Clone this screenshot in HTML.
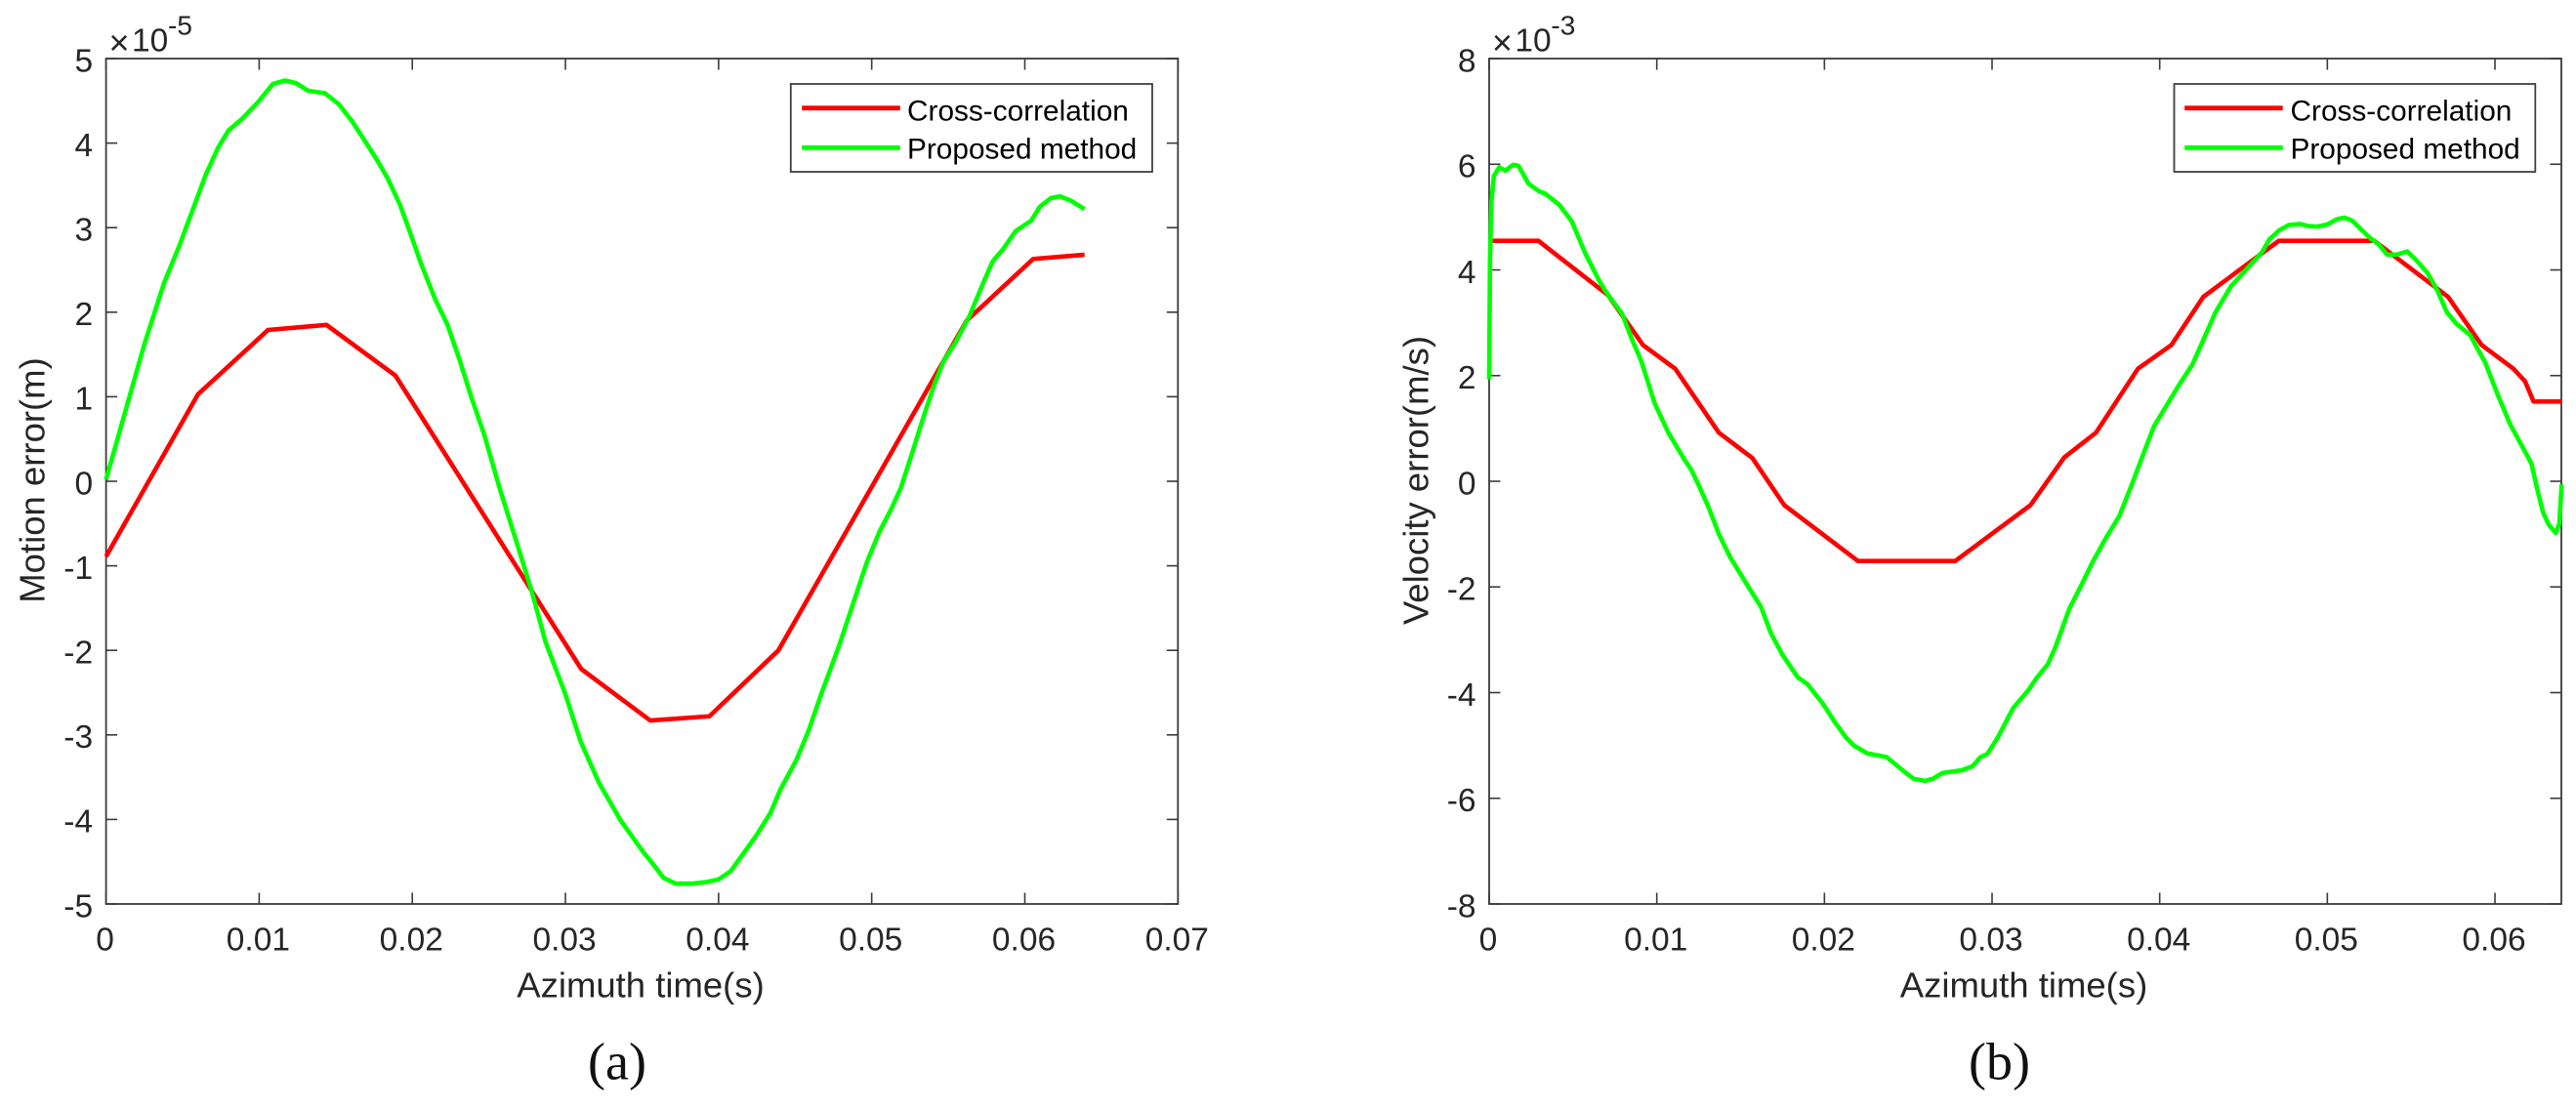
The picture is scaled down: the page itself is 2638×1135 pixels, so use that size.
<!DOCTYPE html>
<html lang="en">
<head>
<meta charset="utf-8">
<title>Motion and velocity error charts</title>
<style>
html,body{margin:0;padding:0;background:#fff;}
body{width:2638px;height:1135px;overflow:hidden;}
svg{display:block;font-family:"Liberation Sans",Arial,sans-serif;}
.tick-label{font-size:33.5px;fill:#262626;}
.axis-title{font-size:36.5px;fill:#262626;}
.legend-text{font-size:29.8px;fill:#000;}
.caption{font-family:"Liberation Serif",serif;font-size:54px;fill:#111;}
.frame{fill:none;stroke:#3a3a3a;stroke-width:1.8;}
.tick{stroke:#3a3a3a;stroke-width:1.6;}
.legend-box{fill:#fff;stroke:#404040;stroke-width:1.8;}
</style>
</head>
<body>
<svg id="root" width="2638" height="1135" viewBox="0 0 2638 1135" xmlns="http://www.w3.org/2000/svg">
  <rect width="2638" height="1135" fill="#fff"/>

  <g id="chart-a">
    <rect class="frame" x="108.6" y="60" width="1097.7" height="866"/>
    <g id="ticks-a"></g>
    <g id="series-a"></g>
    <g>
      <text class="tick-label" x="111.5" y="56" style="font-size:36px">×</text>
      <text class="tick-label" x="135" y="52.3">10</text>
      <text class="tick-label" x="172" y="35.7" style="font-size:28px">-5</text>
    </g>
    <text class="axis-title" x="656" y="1021.5" text-anchor="middle">Azimuth time(s)</text>
    <text class="axis-title" transform="translate(45.5,492) rotate(-90)" text-anchor="middle">Motion error(m)</text>
    <g>
      <rect class="legend-box" x="809.8" y="86" width="370.2" height="90"/>
      <line x1="821.2" x2="921.8" y1="110.7" y2="110.7" stroke="#ff0000" stroke-width="4.8"/>
      <line x1="821.2" x2="921.8" y1="151.3" y2="151.3" stroke="#00ff00" stroke-width="4.8"/>
      <text class="legend-text" x="929" y="123.3">Cross-correlation</text>
      <text class="legend-text" x="929" y="162.7">Proposed method</text>
    </g>
    <text class="caption" x="632" y="1105.5" text-anchor="middle">(a)</text>
  </g>

  <g id="chart-b">
    <rect class="frame" x="1525" y="60" width="1098" height="866"/>
    <g id="ticks-b"></g>
    <g id="series-b"></g>
    <g>
      <text class="tick-label" x="1527.9" y="56" style="font-size:36px">×</text>
      <text class="tick-label" x="1551.4" y="52.3">10</text>
      <text class="tick-label" x="1588.4" y="35.7" style="font-size:28px">-3</text>
    </g>
    <text class="axis-title" x="2072.5" y="1021.5" text-anchor="middle">Azimuth time(s)</text>
    <text class="axis-title" transform="translate(1462.5,492) rotate(-90)" text-anchor="middle">Velocity error(m/s)</text>
    <g>
      <rect class="legend-box" x="2226.5" y="86" width="369.8" height="90"/>
      <line x1="2237.2" x2="2337.7" y1="110.7" y2="110.7" stroke="#ff0000" stroke-width="4.8"/>
      <line x1="2237.2" x2="2337.7" y1="151.3" y2="151.3" stroke="#00ff00" stroke-width="4.8"/>
      <text class="legend-text" x="2345.5" y="123.3">Cross-correlation</text>
      <text class="legend-text" x="2345.5" y="162.7">Proposed method</text>
    </g>
    <text class="caption" x="2047.5" y="1105.5" text-anchor="middle">(b)</text>
  </g>
</svg>

<script>
// ---------- Chart (a): motion error ----------
const xTicksA = [0, 0.01, 0.02, 0.03, 0.04, 0.05, 0.06, 0.07];
const xTickLabelsA = ['0', '0.01', '0.02', '0.03', '0.04', '0.05', '0.06', '0.07'];
const yTicksA = [5, 4, 3, 2, 1, 0, -1, -2, -3, -4, -5];
const yTickLabelsA = ['5', '4', '3', '2', '1', '0', '-1', '-2', '-3', '-4', '-5'];

const crossTimesA = [0, 0.00601, 0.01058, 0.01439, 0.0189, 0.03103, 0.03554, 0.0394, 0.04391, 0.0562, 0.06055, 0.0639];
const crossValuesA = [-0.89, 1.03, 1.79, 1.85, 1.25, -2.22, -2.83, -2.78, -2.0, 1.9, 2.63, 2.68];

const proposedTimesA = [0, 0.0025, 0.0038, 0.00475, 0.0057, 0.0065, 0.0073, 0.008, 0.0089, 0.0099, 0.0109, 0.0117, 0.0124, 0.0132, 0.0143, 0.0152, 0.0161, 0.017, 0.0178, 0.0184, 0.0192, 0.0199, 0.0206, 0.0215, 0.0223, 0.0231, 0.0239, 0.0247, 0.0257, 0.0266, 0.0278, 0.0287, 0.03, 0.031, 0.0322, 0.0336, 0.0351, 0.0356, 0.0364, 0.0372, 0.0383, 0.0392, 0.04, 0.0408, 0.0416, 0.0425, 0.0434, 0.044, 0.0451, 0.0459, 0.0467, 0.0479, 0.0488, 0.0497, 0.0505, 0.0513, 0.0519, 0.0526, 0.0534, 0.0541, 0.0547, 0.0555, 0.0564, 0.0572, 0.0579, 0.0586, 0.0594, 0.0604, 0.061, 0.0617, 0.0623, 0.063, 0.0639];
const proposedValuesA = [0.02, 1.62, 2.35, 2.77, 3.23, 3.62, 3.94, 4.15, 4.29, 4.48, 4.7, 4.74, 4.71, 4.62, 4.59, 4.46, 4.25, 4.0, 3.77, 3.58, 3.27, 2.92, 2.56, 2.15, 1.85, 1.43, 0.97, 0.55, -0.08, -0.6, -1.3, -1.9, -2.52, -3.08, -3.57, -4.01, -4.39, -4.5, -4.69, -4.76, -4.76, -4.74, -4.71, -4.61, -4.41, -4.18, -3.92, -3.66, -3.29, -2.94, -2.52, -1.93, -1.44, -0.95, -0.6, -0.32, -0.08, 0.31, 0.77, 1.15, 1.42, 1.65, 1.96, 2.31, 2.6, 2.75, 2.96, 3.08, 3.25, 3.35, 3.37, 3.32, 3.22];

// ---------- Chart (b): velocity error ----------
const xTicksB = [0, 0.01, 0.02, 0.03, 0.04, 0.05, 0.06];
const xTickLabelsB = ['0', '0.01', '0.02', '0.03', '0.04', '0.05', '0.06'];
const yTicksB = [8, 6, 4, 2, 0, -2, -4, -6, -8];
const yTickLabelsB = ['8', '6', '4', '2', '0', '-2', '-4', '-6', '-8'];

const crossTimesB = [0, 0.00294, 0.0071, 0.00917, 0.0111, 0.0137, 0.0157, 0.0176, 0.022, 0.0278, 0.0323, 0.0343, 0.0362, 0.0387, 0.0407, 0.0426, 0.0471, 0.0528, 0.0572, 0.0592, 0.0611, 0.0618, 0.0623, 0.064];
const crossValuesB = [4.55, 4.55, 3.52, 2.58, 2.13, 0.92, 0.44, -0.45, -1.51, -1.51, -0.45, 0.45, 0.92, 2.13, 2.58, 3.49, 4.55, 4.55, 3.49, 2.58, 2.13, 1.89, 1.51, 1.51];

const proposedTimesB = [0, 0.00005, 0.00014, 0.00028, 0.0006, 0.00097, 0.00143, 0.00175, 0.00235, 0.00297, 0.00336, 0.00419, 0.00493, 0.00574, 0.00654, 0.007, 0.00793, 0.0085, 0.00908, 0.00988, 0.01069, 0.01161, 0.01207, 0.01258, 0.01311, 0.01369, 0.01438, 0.01541, 0.01622, 0.0168, 0.01749, 0.01841, 0.01899, 0.01991, 0.0206, 0.02129, 0.02175, 0.02256, 0.02371, 0.02486, 0.02532, 0.02601, 0.02647, 0.02705, 0.0282, 0.02885, 0.02931, 0.02972, 0.03034, 0.03126, 0.03218, 0.03264, 0.03333, 0.03379, 0.0346, 0.03529, 0.03598, 0.03678, 0.03759, 0.03839, 0.03897, 0.03966, 0.04046, 0.04115, 0.04195, 0.04264, 0.04333, 0.04425, 0.04517, 0.04609, 0.04655, 0.04713, 0.0477, 0.04839, 0.04885, 0.04938, 0.05, 0.05057, 0.05103, 0.05149, 0.05207, 0.05253, 0.0531, 0.05356, 0.05414, 0.05476, 0.05529, 0.05598, 0.05655, 0.05713, 0.0577, 0.05851, 0.05943, 0.06011, 0.06092, 0.06195, 0.06218, 0.06253, 0.06287, 0.06322, 0.06363, 0.06384, 0.06398];
const proposedValuesB = [1.93, 4.18, 5.29, 5.78, 5.94, 5.88, 5.99, 5.97, 5.63, 5.49, 5.44, 5.23, 4.92, 4.31, 3.81, 3.57, 3.17, 2.7, 2.27, 1.47, 0.92, 0.43, 0.21, -0.13, -0.51, -0.99, -1.44, -1.97, -2.38, -2.87, -3.28, -3.71, -3.84, -4.21, -4.55, -4.85, -5.0, -5.15, -5.22, -5.52, -5.63, -5.67, -5.63, -5.52, -5.47, -5.39, -5.22, -5.16, -4.85, -4.29, -3.95, -3.73, -3.46, -3.13, -2.42, -1.99, -1.54, -1.08, -0.66, -0.02, 0.47, 1.04, 1.46, 1.82, 2.21, 2.7, 3.2, 3.69, 4.01, 4.33, 4.58, 4.75, 4.85, 4.87, 4.83, 4.82, 4.86, 4.96, 4.99, 4.93, 4.75, 4.61, 4.47, 4.29, 4.29, 4.35, 4.19, 3.94, 3.62, 3.2, 2.98, 2.77, 2.24, 1.68, 1.07, 0.47, 0.33, -0.16, -0.59, -0.83, -0.98, -0.8, -0.06];

const SVG_NS = 'http://www.w3.org/2000/svg';

function linearScale(d0, d1, r0, r1) {
  return function (v) { return r0 + (v - d0) * (r1 - r0) / (d1 - d0); };
}

function tickLine(parent, x1, y1, x2, y2) {
  const el = document.createElementNS(SVG_NS, 'line');
  
  
  el.setAttribute('class', 'tick');
  el.setAttribute('x1', x1.toFixed(2));
  el.setAttribute('y1', y1.toFixed(2));
  el.setAttribute('x2', x2.toFixed(2));
  el.setAttribute('y2', y2.toFixed(2));
  parent.appendChild(el);
}

function tickText(parent, x, y, anchor, label) {
  const el = document.createElementNS(SVG_NS, 'text');
  
  
  el.setAttribute('class', 'tick-label');
  el.setAttribute('x', x.toFixed(2));
  el.setAttribute('y', y.toFixed(2));
  el.setAttribute('text-anchor', anchor);
  el.textContent = label;
  parent.appendChild(el);
}

function drawAxes(parent, xScale, yScale, frame, xTicks, xLabels, yTicks, yLabels) {
  const len = 11.5;
  xTicks.forEach(function (t, i) {
    const x = xScale(t);
    tickLine(parent, x, frame.bottom, x, frame.bottom - len);
    tickLine(parent, x, frame.top, x, frame.top + len);
    tickText(parent, x - 1, 973.3, 'middle', xLabels[i]);
  });
  yTicks.forEach(function (v, i) {
    const y = yScale(v);
    tickLine(parent, frame.left, y, frame.left + len, y);
    tickLine(parent, frame.right, y, frame.right - len, y);
    tickText(parent, frame.left - 13.5, y + 13.3, 'end', yLabels[i]);
  });
}

function drawSeries(parent, xScale, yScale, times, values, color, name) {
  let points = '';
  times.forEach(function (t, i) {
    points += xScale(t).toFixed(2) + ',' + yScale(values[i]).toFixed(2) + ' ';
  });
  const el = document.createElementNS(SVG_NS, 'polyline');
  
  
  el.setAttribute('points', points.trim());
  el.setAttribute('fill', 'none');
  el.setAttribute('stroke', color);
  el.setAttribute('stroke-width', '4.6');
  el.setAttribute('stroke-linejoin', 'round');
  parent.appendChild(el);
}

const frameA = { left: 108.6, right: 1206.3, top: 60, bottom: 926 };
const xScaleA = linearScale(0, 0.07, frameA.left, frameA.right);
const yScaleA = linearScale(-5, 5, frameA.bottom, frameA.top);
drawAxes(document.getElementById('ticks-a'), xScaleA, yScaleA, frameA, xTicksA, xTickLabelsA, yTicksA, yTickLabelsA);
drawSeries(document.getElementById('series-a'), xScaleA, yScaleA, crossTimesA, crossValuesA, '#ff0000', 'cross-correlation-line-a');
drawSeries(document.getElementById('series-a'), xScaleA, yScaleA, proposedTimesA, proposedValuesA, '#00ff00', 'proposed-method-line-a');

const frameB = { left: 1525, right: 2623, top: 60, bottom: 926 };
const xScaleB = linearScale(0, 0.06396, frameB.left, frameB.right);
const yScaleB = linearScale(-8, 8, frameB.bottom, frameB.top);
drawAxes(document.getElementById('ticks-b'), xScaleB, yScaleB, frameB, xTicksB, xTickLabelsB, yTicksB, yTickLabelsB);
drawSeries(document.getElementById('series-b'), xScaleB, yScaleB, crossTimesB, crossValuesB, '#ff0000', 'cross-correlation-line-b');
drawSeries(document.getElementById('series-b'), xScaleB, yScaleB, proposedTimesB, proposedValuesB, '#00ff00', 'proposed-method-line-b');
</script>
</body>
</html>
